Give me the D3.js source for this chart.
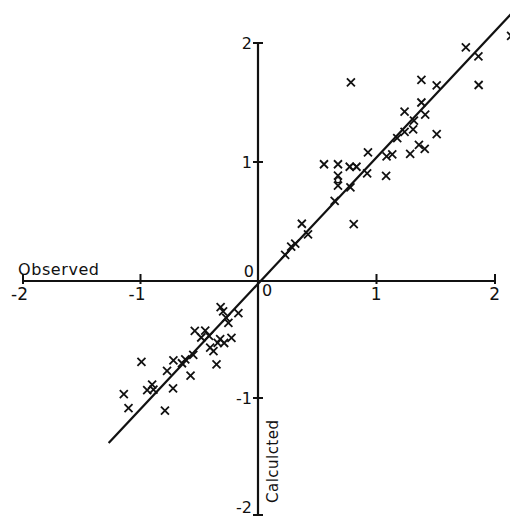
<!DOCTYPE html>
<html>
<head>
<meta charset="utf-8">
<script src="https://cdn.jsdelivr.net/npm/d3@7"></script>
<style>
  body { margin: 0; background: #fff; }
  svg text { font-family: "DejaVu Sans", sans-serif; fill: #111; }
</style>
</head>
<body>
<svg id="chart" width="510" height="518"></svg>
<script>
// observed vs calculated values (x marks)
const crossX = [1.754, 1.860, 1.862, 1.379, 1.508, 0.784, 1.379, 1.237, 1.411, 1.316,
  1.309, 1.237, 1.175, 1.508, 1.358, 1.407, 1.284, 0.928, 1.085, 1.133,
  1.081, 0.921, 0.557, 0.675, 0.774, 0.831, 0.675, 0.675, 0.780, 0.647,
  0.808, 0.370, 0.422, 0.314, 0.280, 0.229, 2.136,
  -0.318, -0.297, -0.167, -0.252, -0.271, -0.538, -0.449, -0.483, -0.417,
  -0.322, -0.226, -0.343, -0.288, -0.407, -0.379, -0.353, -0.551, -0.619,
  -0.647, -0.720, -0.774, -0.574, -0.992, -0.901, -0.943, -0.890, -0.723,
  -1.142, -1.102, -0.792];
const crossY = [1.964, 1.887, 1.647, 1.691, 1.644, 1.669, 1.500, 1.424, 1.398, 1.347,
  1.275, 1.254, 1.201, 1.235, 1.144, 1.110, 1.068, 1.081, 1.047, 1.065,
  0.884, 0.905, 0.981, 0.981, 0.960, 0.960, 0.886, 0.801, 0.786, 0.674,
  0.477, 0.481, 0.392, 0.314, 0.288, 0.220, 2.059,
  -0.223, -0.260, -0.274, -0.358, -0.316, -0.426, -0.424, -0.483, -0.469,
  -0.497, -0.486, -0.528, -0.530, -0.570, -0.599, -0.712, -0.631, -0.669,
  -0.703, -0.678, -0.769, -0.809, -0.692, -0.886, -0.932, -0.928, -0.917,
  -0.966, -1.087, -1.108];
// open circles
const ringX = [0.803, 0.675];
const ringY = [0.960, 0.847];
// fitted line end points
const fitX = [-1.271, 2.2];
const fitY = [-1.385, 2.313];
const ticks = [-2, -1, 1, 2];

const svg = d3.select("#chart");

const x = d3.scaleLinear().domain([-2, 0, 2]).range([23, 258, 495]);
const y = d3.scaleLinear().domain([-2, 0, 2]).range([515, 281, 43]);

// axes
svg.append("line")
  .attr("x1", x(-2)).attr("x2", x(2)).attr("y1", y(0)).attr("y2", y(0))
  .attr("stroke", "#111").attr("stroke-width", 2.2);
svg.append("line")
  .attr("x1", x(0)).attr("x2", x(0)).attr("y1", y(2)).attr("y2", y(-2))
  .attr("stroke", "#111").attr("stroke-width", 2.2);

// x ticks
svg.selectAll(".xt").data(ticks).join("line")
  .attr("class", "xt")
  .attr("x1", d => x(d)).attr("x2", d => x(d))
  .attr("y1", y(0) - 7).attr("y2", y(0) + 3)
  .attr("stroke", "#111").attr("stroke-width", 2);
svg.selectAll(".xl").data(ticks).join("text")
  .attr("class", "xl")
  .attr("x", d => x(d) + 5)
  .attr("y", y(0) + 19)
  .attr("text-anchor", "end")
  .attr("font-size", 17)
  .text(d => d);

// y ticks
svg.selectAll(".yt").data(ticks).join("line")
  .attr("class", "yt")
  .attr("x1", x(0) - 5).attr("x2", x(0) + 5)
  .attr("y1", d => y(d)).attr("y2", d => y(d))
  .attr("stroke", "#111").attr("stroke-width", 2);
svg.selectAll(".yl").data(ticks).join("text")
  .attr("class", "yl")
  .attr("x", x(0) - 6)
  .attr("y", d => Math.min(y(d) + 6, 513))
  .attr("text-anchor", "end")
  .attr("font-size", 16)
  .text(d => d);

// zero labels
svg.append("text").attr("x", x(0) - 4).attr("y", y(0) - 4)
  .attr("text-anchor", "end").attr("font-size", 16).text("0");
svg.append("text").attr("x", x(0) + 4).attr("y", y(0) + 15)
  .attr("font-size", 16).text("0");

// axis titles
svg.append("text").attr("x", 18).attr("y", y(0) - 6)
  .attr("font-size", 16).attr("textLength", 81).text("Observed");
svg.append("text")
  .attr("transform", `translate(${x(0) + 20},${503}) rotate(-90)`)
  .attr("font-size", 15).attr("textLength", 83).text("Calculcted");

// fitted line
svg.append("path")
  .datum(fitX.map((d, i) => [d, fitY[i]]))
  .attr("d", d3.line().x(d => x(d[0])).y(d => y(d[1])))
  .attr("fill", "none").attr("stroke", "#111").attr("stroke-width", 2.2);

// x marks
svg.selectAll(".cross").data(crossX.map((d, i) => [d, crossY[i]])).join("path")
  .attr("class", "cross")
  .attr("transform", d => `translate(${x(d[0])},${y(d[1])})`)
  .attr("d", "M-4,-4L4,4M-4,4L4,-4")
  .attr("stroke", "#111").attr("stroke-width", 1.8);

// circles
svg.selectAll(".ring").data(ringX.map((d, i) => [d, ringY[i]])).join("circle")
  .attr("class", "ring")
  .attr("cx", d => x(d[0])).attr("cy", d => y(d[1]))
  .attr("r", 2.6)
  .attr("fill", "none").attr("stroke", "#111").attr("stroke-width", 1.4);
</script>
</body>
</html>
